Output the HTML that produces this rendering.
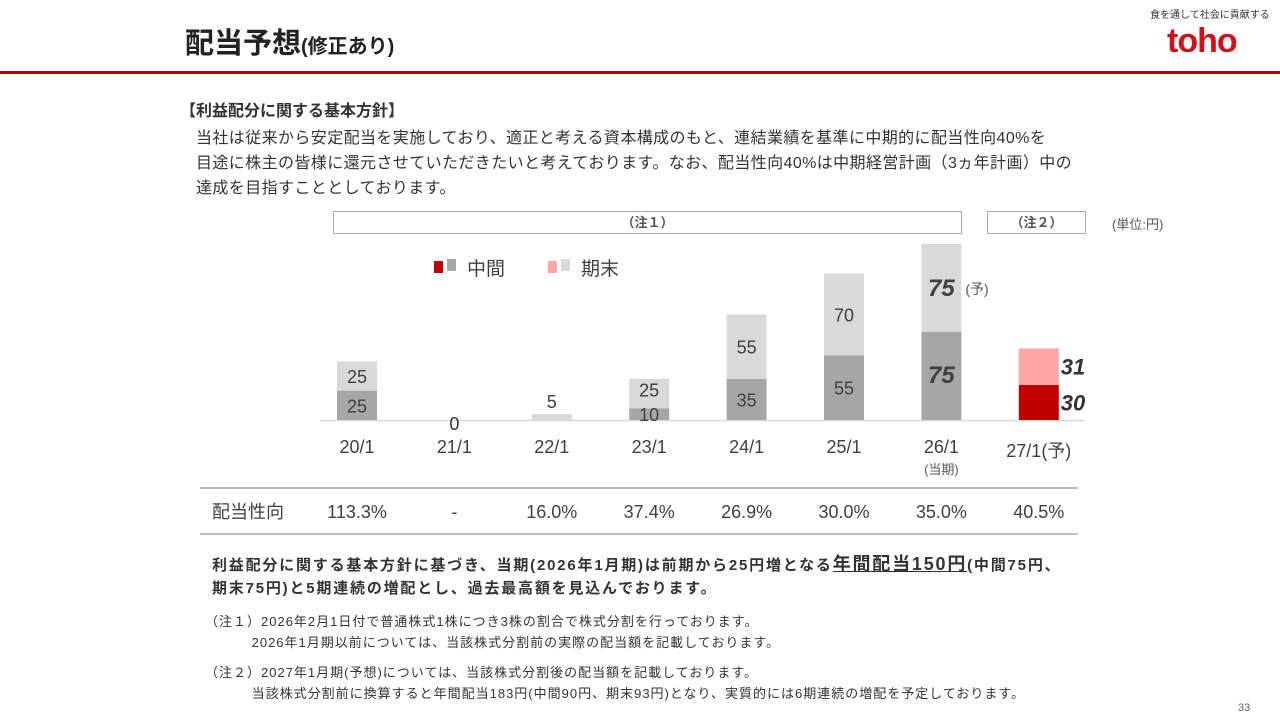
<!DOCTYPE html>
<html><head><meta charset="utf-8">
<style>
body{margin:0;width:1280px;height:720px;background:#fff;position:relative;overflow:hidden;font-family:"Liberation Sans","Noto Sans CJK JP",sans-serif;color:#333}
.abs{position:absolute;white-space:nowrap}
</style></head><body>
<div class="abs" style="left:185px;top:20px;font-size:29px;font-weight:bold;color:#222">配当予想<span style="font-size:20px">(修正あり)</span></div>
<div class="abs" style="left:1150px;top:6px;font-size:10px;color:#333">食を通して社会に貢献する</div>
<div class="abs" style="left:1167px;top:22px;font-size:34px;font-weight:bold;color:#d0101a;letter-spacing:-1px">toho</div>
<div class="abs" style="left:0;top:71px;width:1280px;height:3px;background:#c00000"></div>

<div class="abs" style="left:180px;top:97px;font-size:16px;font-weight:bold;color:#333">【利益配分に関する基本方針】</div>
<div class="abs" style="left:196px;top:126px;font-size:16px;letter-spacing:0.4px;line-height:25px;color:#333">当社は従来から安定配当を実施しており、適正と考える資本構成のもと、連結業績を基準に中期的に配当性向40%を<br>目途に株主の皆様に還元させていただきたいと考えております。なお、配当性向40%は中期経営計画（3ヵ年計画）中の<br>達成を目指すこととしております。</div>

<div class="abs" style="left:333px;top:211px;width:627px;height:21px;border:1px solid #aaa;text-align:center;font-size:13px;line-height:21px;font-weight:bold;color:#555">（注１）</div>
<div class="abs" style="left:987px;top:211px;width:97px;height:21px;border:1px solid #aaa;text-align:center;font-size:13px;line-height:21px;font-weight:bold;color:#555">（注２）</div>
<div class="abs" style="left:1112px;top:214px;font-size:13px;color:#555">(単位:円)</div>

<svg id="chart" class="abs" style="left:0;top:0" width="1280" height="720"></svg>

<div class="abs" style="left:212px;top:553px;font-size:15px;letter-spacing:1.8px;line-height:23px;font-weight:bold;color:#333">利益配分に関する基本方針に基づき、当期(2026年1月期)は前期から25円増となる<span style="font-size:18px;text-decoration:underline">年間配当150円</span>(中間75円、<br>期末75円)と5期連続の増配とし、過去最高額を見込んでおります。</div>
<div class="abs" style="left:205px;top:611px;font-size:13px;letter-spacing:1px;line-height:21px;color:#333">（注１）2026年2月1日付で普通株式1株につき3株の割合で株式分割を行っております。<br>　　　 2026年1月期以前については、当該株式分割前の実際の配当額を記載しております。</div>
<div class="abs" style="left:205px;top:662px;font-size:13px;letter-spacing:1px;line-height:21px;color:#333">（注２）2027年1月期(予想)については、当該株式分割後の配当額を記載しております。<br>　　　 当該株式分割前に換算すると年間配当183円(中間90円、期末93円)となり、実質的には6期連続の増配を予定しております。</div>
<div class="abs" style="left:1238px;top:702px;font-size:11px;color:#666">33</div>

<script>
const categories=["20/1","21/1","22/1","23/1","24/1","25/1","26/1","27/1(予)"];
const interim=[25,0,0,10,35,55,75,30];
const yearEnd=[25,0,5,25,55,70,75,31];
const payoutRatio=["113.3%","-","16.0%","37.4%","26.9%","30.0%","35.0%","40.5%"];
const NS="http://www.w3.org/2000/svg";
const svg=document.getElementById('chart');
const base=420, scale=176/150, x0=357, step=97.4, bw=40;
const xPos=i=>x0+i*step;
const yLen=v=>v*scale;
function mk(tag,attrs,text){const e=document.createElementNS(NS,tag);for(const k in attrs)e.setAttribute(k,attrs[k]);if(text!==undefined)e.textContent=text;svg.appendChild(e);return e;}
const ff='"Liberation Sans","Noto Sans CJK JP",sans-serif';
let ax=mk('line',{x1:320,x2:1085,y1:base+0.5,y2:base+0.5,stroke:'#d9d9d9','stroke-width':1.5});


categories.forEach((c,i)=>{
  const cx=xPos(i), last=i===categories.length-1;
  const hi=yLen(interim[i]), he=yLen(yearEnd[i]);
  const r1=mk('rect',{x:cx-bw/2,y:base-hi,width:bw,height:hi,fill:last?'#c00000':'#a6a6a6'});
  
  
  const r2=mk('rect',{x:cx-bw/2,y:base-hi-he,width:bw,height:he,fill:last?'#ffa7a7':'#d9d9d9'});
  
  
  const big=i===6;
  const fs=big?24:18;
  if(last){
    mk('text',{x:cx+22,y:base-hi/2+8,'font-size':22,'font-weight':'bold','font-style':'italic',fill:'#333','font-family':ff},interim[i]);
    mk('text',{x:cx+22,y:base-hi-he/2+8,'font-size':22,'font-weight':'bold','font-style':'italic',fill:'#333','font-family':ff},yearEnd[i]);
  } else if(interim[i]===0&&yearEnd[i]===0){
    mk('text',{x:cx,y:base+10,'font-size':18,'text-anchor':'middle',fill:'#333','font-family':ff},'0');
  } else {
    if(interim[i]>0) mk('text',{x:cx,y:base-hi/2+7,'font-size':fs,'font-weight':big?'bold':'normal','font-style':big?'italic':'normal','text-anchor':'middle',fill:'#404040','font-family':ff},interim[i]);
    if(yearEnd[i]>0){
      let ty=yearEnd[i]<10?base-hi-he-6:base-hi-he/2+(interim[i]<15&&interim[i]>0?3:7);
      if(big) ty=base-hi-he/2+8;
      mk('text',{x:cx,y:ty,'font-size':fs,'font-weight':big?'bold':'normal','font-style':big?'italic':'normal','text-anchor':'middle',fill:'#404040','font-family':ff},yearEnd[i]);
    }
    if(big) mk('text',{x:cx+24,y:base-hi-he/2+6,'font-size':14,fill:'#555','font-family':ff},'(予)');
  }
  mk('text',{x:cx,y:last?457:453,'font-size':18,'text-anchor':'middle',fill:'#404040','font-family':ff},c);
  const pr=mk('text',{x:cx,y:518,'font-size':18,'text-anchor':'middle',fill:'#404040','font-family':ff},payoutRatio[i]);
  
  
});
mk('text',{x:xPos(6),y:474,'font-size':13,'text-anchor':'middle',fill:'#555','font-family':ff},'(当期)');
mk('line',{x1:200,x2:1078,y1:488,y2:488,stroke:'#999','stroke-width':1.2});
mk('line',{x1:200,x2:1078,y1:534,y2:534,stroke:'#999','stroke-width':1.2});
mk('text',{x:212,y:518,'font-size':18,fill:'#404040','font-family':ff},'配当性向');
const lg=[['#c00000','#a6a6a6','中間',434],['#ffa7a7','#d9d9d9','期末',548]];
lg.forEach(l=>{
  mk('rect',{x:l[3],y:261,width:9,height:12,fill:l[0]});
  mk('rect',{x:l[3]+13,y:259,width:9,height:12,fill:l[1]});
  const t=mk('text',{x:l[3]+33,y:275,'font-size':19,fill:'#404040','font-family':ff},l[2]);
  
  
});
</script>
</body></html>
